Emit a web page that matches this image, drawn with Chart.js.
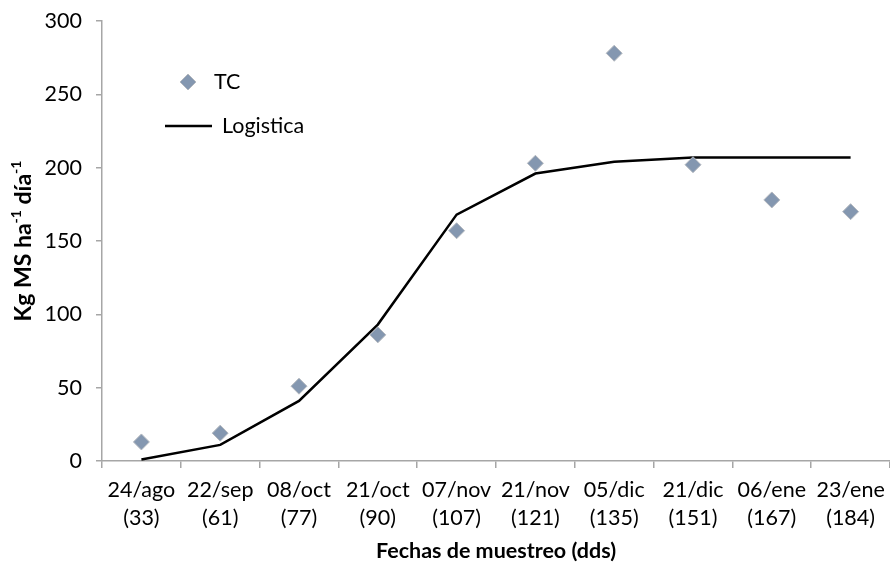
<!DOCTYPE html>
<html>
<head>
<meta charset="utf-8">
<script src="https://cdn.jsdelivr.net/npm/chart.js@4"></script>
<style>
  html, body { margin: 0; padding: 0; background: #fff; }
  #wrap { width: 890px; height: 568px; }
</style>
</head>
<body>
<div id="wrap"><canvas id="growthChart"></canvas></div>
<script>
// data
const fechas = ["24/ago", "22/sep", "08/oct", "21/oct", "07/nov", "21/nov", "05/dic", "21/dic", "06/ene", "23/ene"];
const dds = ["(33)", "(61)", "(77)", "(90)", "(107)", "(121)", "(135)", "(151)", "(167)", "(184)"];
const tcValues = [13, 19, 51, 86, 157, 203, 278, 202, 178, 170];
const logisticaValues = [1, 11, 41, 93, 168, 196, 204, 207, 207, 207];
const yTicks = [0, 50, 100, 150, 200, 250, 300];

const FONT = "Lato";
const labels = fechas.map((f, i) => [f, dds[i]]);

// legend drawn inside the plot + y title with superscripts
const extras = {
  id: "extras",
  afterDraw(chart) {
    const c = chart.ctx;
    c.save();
    // legend
    c.fillStyle = "#8497B0";
    c.strokeStyle = "#B4B8BE";
    c.lineWidth = 1;
    c.beginPath();
    c.moveTo(188, 74); c.lineTo(196, 82); c.lineTo(188, 90); c.lineTo(180, 82); c.closePath();
    c.fill(); c.stroke();
    c.fillStyle = "#000";
    c.font = "21.5px " + FONT;
    c.textBaseline = "middle";
    c.fillText("TC", 214, 82);
    c.strokeStyle = "#000";
    c.lineWidth = 2.5;
    c.beginPath(); c.moveTo(165, 126); c.lineTo(212, 126); c.stroke();
    c.fillText("Logistica", 222, 126);

    // y axis title
    const parts = [["Kg MS ha", false], ["-1", true], [" día", false], ["-1", true]];
    const big = "bold 23px " + FONT, small = "bold 14px " + FONT;
    let total = 0;
    parts.forEach(p => { c.font = p[1] ? small : big; total += c.measureText(p[0]).width; });
    c.translate(22, 241);
    c.rotate(-Math.PI / 2);
    let x = -total / 2;
    c.textBaseline = "alphabetic";
    parts.forEach(p => {
      c.font = p[1] ? small : big;
      c.fillText(p[0], x, p[1] ? -1 : 9);
      x += c.measureText(p[0]).width;
    });
    c.restore();
  }
};

new Chart(document.getElementById("growthChart"), {
  type: "line",
  data: {
    labels: labels,
    datasets: [
      {
        label: "TC",
        data: tcValues,
        showLine: false,
        pointStyle: "rectRot",
        pointRadius: 8,
        backgroundColor: "#8497B0",
        borderColor: "#B4B8BE",
        pointBorderWidth: 1,
      },
      {
        label: "Logistica",
        data: logisticaValues,
        borderColor: "#000",
        borderWidth: 2.5,
        pointRadius: 0,
        tension: 0,
      },
    ],
  },
  options: {
    responsive: true,
    maintainAspectRatio: false,
    animation: false,
    layout: { autoPadding: false, padding: { top: 21, right: -1, left: 0, bottom: 0 } },
    plugins: {
      legend: { display: false },
      tooltip: { enabled: false },
    },
    scales: {
      x: {
        offset: true,
        afterFit: (s) => { s.height = 107; s.paddingLeft = 0; s.paddingRight = 0; },
        border: { color: "#A6A6A6", width: 1.5 },
        grid: { offset: true, drawOnChartArea: false, drawTicks: true, tickLength: 7, color: "#A6A6A6", lineWidth: 1.5 },
        ticks: { color: "#000", font: { family: FONT, size: 21.5, lineHeight: 1.3 }, padding: 8, maxRotation: 0, autoSkip: false },
        title: { display: true, text: "Fechas de muestreo (dds)", color: "#000", font: { family: FONT, size: 21.5, weight: "bold" }, padding: { top: 10 } },
      },
      y: {
        min: 0,
        max: 300,
        afterFit: (s) => { s.width = 102; s.paddingTop = 0; s.paddingBottom = 0; },
        afterBuildTicks: (s) => { s.ticks = yTicks.map(v => ({ value: v })); },
        border: { color: "#A6A6A6", width: 1.5 },
        grid: { drawOnChartArea: false, drawTicks: true, tickLength: 6, color: "#A6A6A6", lineWidth: 1.5 },
        ticks: { color: "#000", font: { family: FONT, size: 21.5 }, padding: 14 },
      },
    },
  },
  plugins: [extras],
});
</script>
</body>
</html>
